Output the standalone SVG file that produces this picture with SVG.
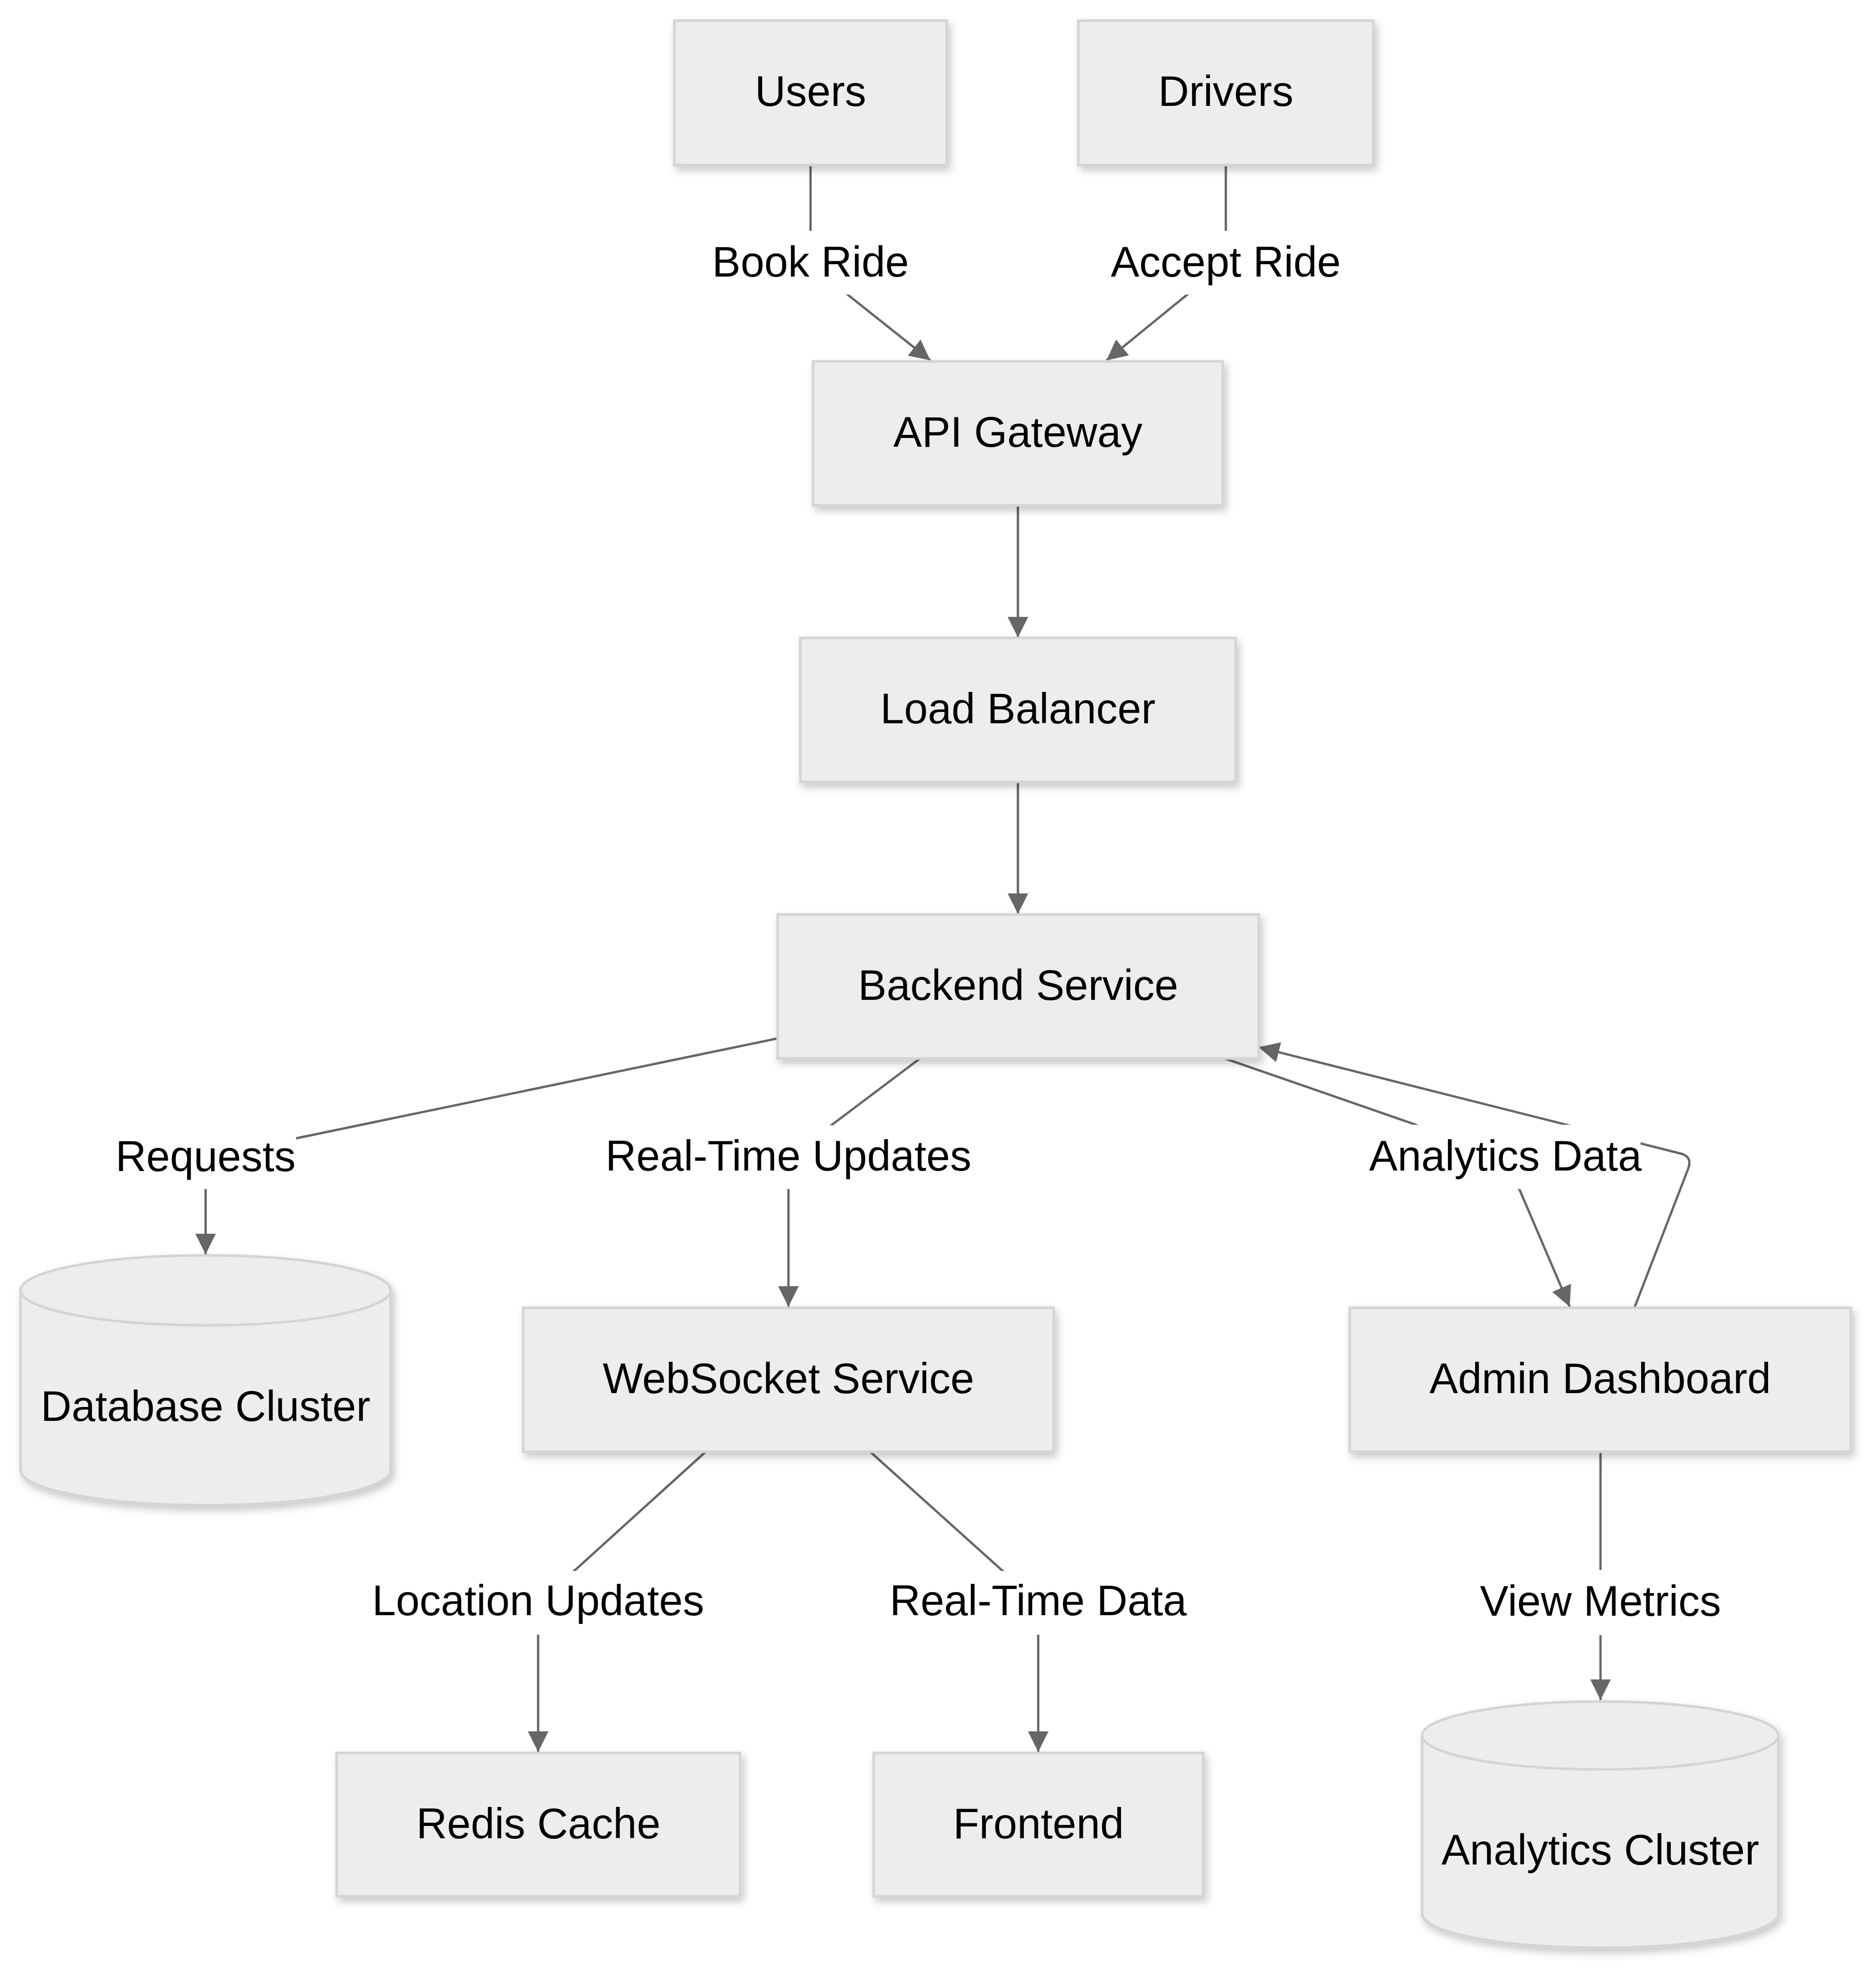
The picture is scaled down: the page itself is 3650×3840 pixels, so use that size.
<svg xmlns="http://www.w3.org/2000/svg" width="3650" height="3840" viewBox="0 0 3650 3840">
<style>
.node rect, .node path { fill: #EDEDED; stroke: #D4D4D4; stroke-width: 5; }
.node { filter: url(#sh); }
.lbl { font-family: "Liberation Sans", Arial, sans-serif; font-size: 83px; fill: #000; text-anchor: middle; }
.edge { fill: none; stroke: #666666; stroke-width: 4.5; }
.ebg { fill: #FFFFFF; stroke: none; }
</style>
<defs>
<filter id="sh" x="-10%" y="-10%" width="125%" height="135%">
<feDropShadow dx="5" dy="8" stdDeviation="8" flood-color="#000" flood-opacity="0.22"/>
</filter>
<marker id="ah" viewBox="0 0 10 10" refX="10" refY="5" markerWidth="40" markerHeight="42" markerUnits="userSpaceOnUse" orient="auto">
<path d="M0,0 L10,5 L0,10 z" fill="#666666"/>
</marker>
</defs>
<rect width="3650" height="3840" fill="#FFFFFF"/>

<g id="connectors">
<path class="edge" marker-end="url(#ah)" d="M1577,321 L1577,511 L1649,573 L1810,701"/>
<path class="edge" marker-end="url(#ah)" d="M2385,321 L2385,511 L2310,573 L2153,701"/>
<path class="edge" marker-end="url(#ah)" d="M1980.5,983 L1980.5,1240"/>
<path class="edge" marker-end="url(#ah)" d="M1980.5,1521 L1980.5,1778"/>
<path class="edge" marker-end="url(#ah)" d="M1513,2020 L578,2214 L400,2251 L400,2440"/>
<path class="edge" marker-end="url(#ah)" d="M1790,2059 L1616,2190 L1534,2251 L1534,2542"/>
<path class="edge" marker-end="url(#ah)" d="M2383,2059 L2755,2188 L2956,2313 L3054,2542"/>
<path class="edge" marker-end="url(#ah)" d="M3180,2544 L3284,2275 Q3294,2250 3270,2244 L2449,2037"/>
<path class="edge" marker-end="url(#ah)" d="M1373,2824 L1117,3056 L1047,3118 L1047,3408"/>
<path class="edge" marker-end="url(#ah)" d="M1693,2824 L1951,3056 L2020,3118 L2020,3408"/>
<path class="edge" marker-end="url(#ah)" d="M3114,2824 L3114,3307"/>
</g>

<g id="edge-labels">
<g id="label-book-ride"><rect class="ebg" x="1385" y="449" width="384" height="124"/><text class="lbl" x="1577" y="538">Book Ride</text></g>
<g id="label-accept-ride"><rect class="ebg" x="2161" y="449" width="448" height="124"/><text class="lbl" x="2385" y="538">Accept Ride</text></g>
<g id="label-requests"><rect class="ebg" x="224" y="2189" width="352" height="124"/><text class="lbl" x="400" y="2278">Requests</text></g>
<g id="label-rt-updates"><rect class="ebg" x="1176" y="2189" width="716" height="124"/><text class="lbl" x="1534" y="2277">Real-Time Updates</text></g>
<g id="label-analytics-data"><rect class="ebg" x="2668" y="2188" width="524" height="125"/><text class="lbl" x="2929" y="2277">Analytics Data</text></g>
<g id="label-location-updates"><rect class="ebg" x="726" y="3056" width="642" height="124"/><text class="lbl" x="1047" y="3142">Location Updates</text></g>
<g id="label-rt-data"><rect class="ebg" x="1729" y="3056" width="582" height="124"/><text class="lbl" x="2020" y="3142">Real-Time Data</text></g>
<g id="label-view-metrics"><rect class="ebg" x="2879" y="3054" width="470" height="127"/><text class="lbl" x="3114" y="3143">View Metrics</text></g>
</g>

<g id="node-users" class="node"><rect x="1312" y="40" width="530" height="281"/><text class="lbl" x="1577" y="206">Users</text></g>
<g id="node-drivers" class="node"><rect x="2098" y="40" width="574" height="281"/><text class="lbl" x="2385" y="206">Drivers</text></g>
<g id="node-api-gateway" class="node"><rect x="1582" y="703" width="797" height="280"/><text class="lbl" x="1980.5" y="869">API Gateway</text></g>
<g id="node-load-balancer" class="node"><rect x="1557" y="1241" width="847" height="280"/><text class="lbl" x="1980.5" y="1407">Load Balancer</text></g>
<g id="node-backend" class="node"><rect x="1513" y="1779" width="936" height="280"/><text class="lbl" x="1981" y="1945">Backend Service</text></g>
<g id="node-database" class="node"><path d="M40,2510 a360,68 0 0 0 720,0 a360,68 0 0 0 -720,0 l0,350 a360,68 0 0 0 720,0 l0,-350"/><text class="lbl" x="400" y="2764">Database Cluster</text></g>
<g id="node-websocket" class="node"><rect x="1018" y="2544" width="1032" height="280"/><text class="lbl" x="1534" y="2710">WebSocket Service</text></g>
<g id="node-admin" class="node"><rect x="2626" y="2544" width="975" height="280"/><text class="lbl" x="3113.5" y="2710">Admin Dashboard</text></g>
<g id="node-redis" class="node"><rect x="655" y="3410" width="785" height="279"/><text class="lbl" x="1047.5" y="3576">Redis Cache</text></g>
<g id="node-frontend" class="node"><rect x="1700" y="3410" width="641" height="279"/><text class="lbl" x="2020.5" y="3576">Frontend</text></g>
<g id="node-analytics-cluster" class="node"><path d="M2767,3376 a346.5,66 0 0 0 693,0 a346.5,66 0 0 0 -693,0 l0,347 a346.5,66 0 0 0 693,0 l0,-347"/><text class="lbl" x="3113.5" y="3627">Analytics Cluster</text></g>
</svg>
